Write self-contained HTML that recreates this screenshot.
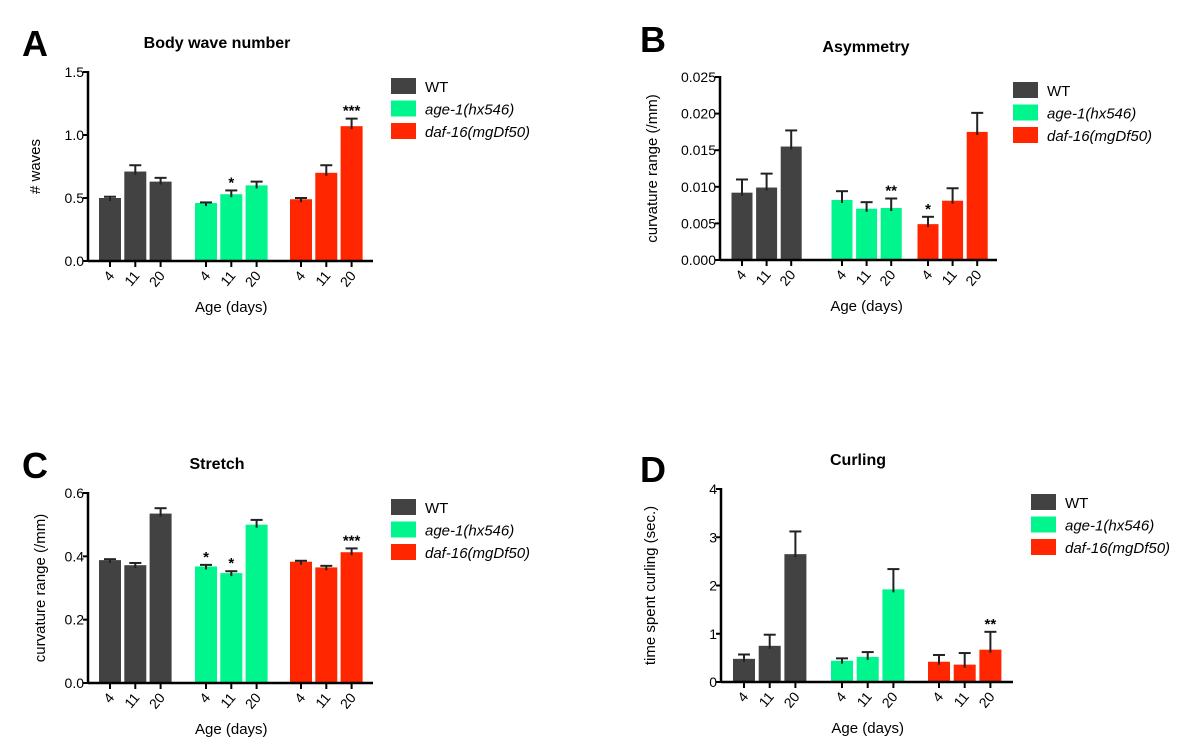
<!DOCTYPE html>
<html><head><meta charset="utf-8"><style>
html,body{margin:0;padding:0;background:#fff;}
svg{display:block;font-family:"Liberation Sans",sans-serif;}
</style></head><body>
<svg id="fig" width="1200" height="756" viewBox="0 0 1200 756" xmlns="http://www.w3.org/2000/svg"></svg>
<script>
const groups = ["WT", "age-1(hx546)", "daf-16(mgDf50)"];
const ages = ["4", "11", "20"];
const colors = ["#424242", "#00f58c", "#ff2600"];
// Panel A
const aMeans = [[0.50,0.71,0.63],[0.46,0.53,0.60],[0.49,0.70,1.07]];
const aErrs  = [[0.01,0.05,0.03],[0.005,0.03,0.03],[0.01,0.06,0.06]];
const aStars = [["","",""],["","*",""],["","","***"]];
const aTicks = [0,0.5,1.0,1.5];
const aTickLabels = ["0.0","0.5","1.0","1.5"];
// Panel B
const bMeans = [[0.0092,0.0099,0.0155],[0.0082,0.0070,0.0071],[0.0049,0.0081,0.0175]];
const bErrs  = [[0.0018,0.0019,0.0022],[0.0012,0.0009,0.0013],[0.0010,0.0017,0.0026]];
const bStars = [["","",""],["","","**"],["*","",""]];
const bTicks = [0,0.005,0.010,0.015,0.020,0.025];
const bTickLabels = ["0.000","0.005","0.010","0.015","0.020","0.025"];
// Panel C
const cMeans = [[0.388,0.372,0.535],[0.368,0.347,0.500],[0.383,0.365,0.413]];
const cErrs  = [[0.003,0.007,0.017],[0.005,0.006,0.015],[0.003,0.005,0.012]];
const cStars = [["","",""],["*","*",""],["","","***"]];
const cTicks = [0,0.2,0.4,0.6];
const cTickLabels = ["0.0","0.2","0.4","0.6"];
// Panel D
const dMeans = [[0.48,0.75,2.65],[0.44,0.52,1.92],[0.42,0.36,0.67]];
const dErrs  = [[0.09,0.23,0.47],[0.05,0.10,0.42],[0.14,0.24,0.37]];
const dStars = [["","",""],["","",""],["","","**"]];
const dTicks = [0,1,2,3,4];
const dTickLabels = ["0","1","2","3","4"];

const svg = document.getElementById('fig');
const NS = "http://www.w3.org/2000/svg";
function mk(tag, attrs, parent, text){
  const e = document.createElementNS(NS, tag);
  for (const k in attrs) e.setAttribute(k, attrs[k]);
  if (text !== undefined) e.textContent = text;
  (parent||svg).appendChild(e); return e;
}

function panel(cfg){
  const g = mk('g', {});
  
  
  const yMax = cfg.ticks[cfg.ticks.length-1];
  const Y = v => cfg.y0 - (v / yMax) * (cfg.y0 - cfg.yTop);
  const X = (gi, ai) => cfg.gx[gi] + ai * cfg.step;
  const L = mk('text', {x:cfg.lx, y:cfg.ly, 'font-size':36, 'font-weight':'bold', fill:'#000'}, g, cfg.id);
  
  
  const T = mk('text', {x:cfg.tx, y:cfg.ty, 'font-size':16, 'font-weight':'bold', 'text-anchor':'middle'}, g, cfg.title);
  
  
  for (let gi=0; gi<3; gi++){
    for (let ai=0; ai<3; ai++){
      const cx = X(gi, ai), m = cfg.means[gi][ai], er = cfg.errs[gi][ai];
      const r = mk('rect', {x:cx-cfg.bw/2, y:Y(m), width:cfg.bw, height:cfg.y0-Y(m), fill:colors[gi]}, g);
      
      
      const ye = Y(m+er);
      mk('line', {x1:cx, x2:cx, y1:Y(m)+3, y2:ye, stroke:'#222', 'stroke-width':2}, g);
      mk('line', {x1:cx-6, x2:cx+6, y1:ye, y2:ye, stroke:'#222', 'stroke-width':2}, g);
      if (cfg.stars[gi][ai]){
        const s = mk('text', {x:cx, y:ye-3, 'font-size':15, 'font-weight':'bold', 'text-anchor':'middle'}, g, cfg.stars[gi][ai]);
        
        
      }
      mk('line', {x1:cx, x2:cx, y1:cfg.y0, y2:cfg.y0+6, stroke:'#000', 'stroke-width':2}, g);
      const tl = mk('text', {transform:`translate(${cx+5},${cfg.y0+15}) rotate(-50)`, 'font-size':14, 'text-anchor':'end'}, g, ages[ai]);
      
      
    }
  }
  mk('line', {x1:cfg.ax, x2:cfg.ax, y1:cfg.yTop-1, y2:cfg.y0+1, stroke:'#000', 'stroke-width':2.5}, g);
  mk('line', {x1:cfg.ax, x2:cfg.xEnd, y1:cfg.y0, y2:cfg.y0, stroke:'#000', 'stroke-width':2.5}, g);
  cfg.ticks.forEach((t,i)=>{
    mk('line', {x1:cfg.ax-5, x2:cfg.ax, y1:Y(t), y2:Y(t), stroke:'#000', 'stroke-width':2}, g);
    const tt = mk('text', {x:cfg.ax-4, y:Y(t)+5, 'font-size':14, 'text-anchor':'end'}, g, cfg.tickLabels[i]);
    
    
  });
  const yt = mk('text', {transform:`translate(${cfg.ytx},${(cfg.y0+cfg.yTop)/2}) rotate(-90)`, 'font-size':15, 'text-anchor':'middle'}, g, cfg.ytitle);
  
  
  const xt = mk('text', {x:X(1,1), y:cfg.y0+51, 'font-size':15, 'text-anchor':'middle'}, g, 'Age (days)');
  
  
  groups.forEach((name, gi)=>{
    const y = cfg.legY + gi*22.5;
    const le = mk('g', {}, g);
    
    
    mk('rect', {x:cfg.legX, y:y, width:25, height:16, fill:colors[gi]}, le);
    mk('text', {x:cfg.legX+34, y:y+14, 'font-size':15, 'font-style': gi ? 'italic':'normal'}, le, name);
  });
}

panel({id:'A', title:'Body wave number', means:aMeans, errs:aErrs, stars:aStars, ticks:aTicks, tickLabels:aTickLabels,
  lx:22, ly:56, tx:217, ty:48, ax:88, xEnd:373, yTop:72, y0:261, gx:[110,206,301], step:25.3, bw:22,
  ytx:40, ytitle:'# waves', legX:391, legY:78});
panel({id:'B', title:'Asymmetry', means:bMeans, errs:bErrs, stars:bStars, ticks:bTicks, tickLabels:bTickLabels,
  lx:640, ly:52, tx:866, ty:52, ax:720, xEnd:997, yTop:77, y0:260, gx:[742,842,928], step:24.6, bw:21,
  ytx:657, ytitle:'curvature range (/mm)', legX:1013, legY:82});
panel({id:'C', title:'Stretch', means:cMeans, errs:cErrs, stars:cStars, ticks:cTicks, tickLabels:cTickLabels,
  lx:22, ly:478, tx:217, ty:469, ax:88, xEnd:373, yTop:493, y0:683, gx:[110,206,301], step:25.3, bw:22,
  ytx:45, ytitle:'curvature range (/mm)', legX:391, legY:499});
panel({id:'D', title:'Curling', means:dMeans, errs:dErrs, stars:dStars, ticks:dTicks, tickLabels:dTickLabels,
  lx:640, ly:482, tx:858, ty:465, ax:721, xEnd:1013, yTop:489, y0:682, gx:[744,842,939], step:25.7, bw:22,
  ytx:655, ytitle:'time spent curling (sec.)', legX:1031, legY:494});
</script>
</body></html>
